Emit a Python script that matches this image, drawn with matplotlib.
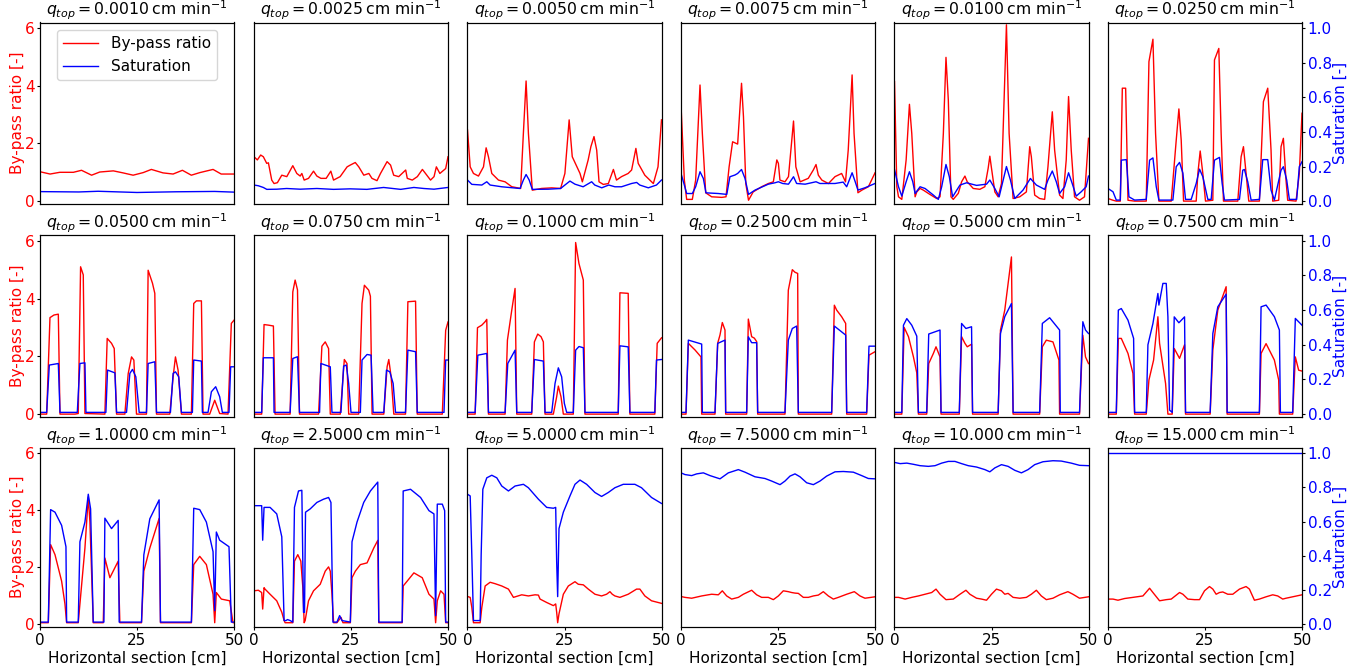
import numpy as np
import matplotlib
matplotlib.use('Agg')
import matplotlib.pyplot as plt

q_labels = ['0.0010', '0.0025', '0.0050', '0.0075', '0.0100', '0.0250',
            '0.0500', '0.0750', '0.1000', '0.2500', '0.5000', '0.7500',
            '1.0000', '2.5000', '5.0000', '7.5000', '10.000', '15.000']

# q = 0.0010
x_p1 = [0, 2.6, 5.1, 8.6, 10.7, 13.3, 15.4, 18.9, 21.4, 24.0, 26.6, 28.7, 31.7, 34.3, 36.7, 39.0, 41.2, 44.6, 46.7, 50]
bp_p1 = [1.02, 0.94, 1.0, 1.0, 1.07, 0.9, 1.01, 1.05, 0.98, 0.9, 0.99, 1.1, 0.98, 0.94, 1.07, 0.9, 0.99, 1.1, 0.94, 0.94]
xs_p1 = [0, 10, 15, 25, 35, 45, 50]
s_p1 = [0.055, 0.053, 0.057, 0.05, 0.054, 0.056, 0.052]

# q = 0.0025
x_p2 = [0, 0.86, 1.72, 2.41, 3.28, 3.71, 4.57, 5.17, 6.03, 7.16, 8.45, 10.0, 11.03, 11.9, 12.33, 12.93, 14.05, 15.34, 16.2, 17.24,
        18.6, 19.8, 20.5, 22.2, 24.0, 24.8, 26.1, 27.0, 28.3, 29.6, 30.4, 31.7, 32.6, 34.3, 35.2, 36.0, 37.3, 39.1, 39.5, 40.8,
        42.1, 43.4, 44.2, 45.5, 46.4, 47.0, 47.9, 49.4, 50]
bp_p2 = [1.54, 1.43, 1.6, 1.54, 1.31, 1.33, 0.73, 0.61, 0.64, 0.9, 0.85, 1.23, 0.96, 0.87, 0.96, 0.73, 0.79, 1.04, 0.87, 0.79,
         0.79, 1.04, 0.73, 0.85, 1.19, 1.25, 1.34, 1.19, 0.9, 0.96, 0.79, 0.71, 0.96, 1.37, 1.25, 0.9, 0.85, 1.08, 0.79, 0.73,
         0.85, 1.1, 0.96, 0.73, 0.85, 1.19, 0.96, 1.13, 1.54]
xs_p2 = [0, 1.1, 2.4, 3.3, 5.9, 8.4, 11.9, 16.2, 20.5, 24.8, 29.1, 33.4, 37.8, 41.2, 43.8, 46.4, 50]
s_p2 = [0.093, 0.089, 0.079, 0.068, 0.069, 0.073, 0.069, 0.073, 0.068, 0.071, 0.068, 0.079, 0.068, 0.079, 0.073, 0.069, 0.079]

# q = 0.0050
x_p3 = [0, 0.69, 1.54, 2.83, 4.12, 4.8, 5.4, 6.26, 7.98, 9.69, 11.4, 13.7, 14.4, 15.1, 15.7, 16.7, 19.1, 21.7, 24.0, 25.1,
        26.2, 27.0, 28.0, 29.0, 29.6, 31.1, 31.8, 32.6, 33.3, 33.9, 35.0, 36.3, 37.6, 38.4, 39.7, 41.4, 42.3, 43.4, 44.0, 45.7,
        47.9, 49.1, 50]
bp_p3 = [2.47, 1.19, 0.96, 0.87, 1.19, 1.85, 1.54, 0.96, 0.73, 0.67, 0.5, 0.44, 2.35, 4.17, 2.35, 0.38, 0.44, 0.46, 0.44, 0.96,
         2.82, 1.54, 1.25, 0.96, 0.67, 1.43, 1.89, 2.24, 1.77, 0.67, 0.58, 0.61, 1.1, 0.73, 0.85, 0.96, 1.08, 1.83, 1.31, 0.9,
         0.61, 1.19, 2.82]
xs_p3 = [0, 1.11, 3.69, 4.97, 5.83, 8.83, 13.55, 14.4, 15.1, 15.9, 16.7, 20.8, 24.0, 25.1, 26.4, 27.7, 29.8, 32.0, 32.8, 34.6,
         36.4, 38.0, 39.7, 42.3, 43.6, 44.4, 46.6, 48.7, 50]
s_p3 = [0.122, 0.097, 0.093, 0.112, 0.093, 0.083, 0.073, 0.122, 0.154, 0.122, 0.068, 0.069, 0.073, 0.093, 0.116, 0.098, 0.083,
        0.112, 0.093, 0.077, 0.093, 0.083, 0.083, 0.102, 0.108, 0.093, 0.077, 0.093, 0.122]

# q = 0.0075
x_p4 = [0, 0.86, 1.46, 2.92, 3.78, 4.9, 5.5, 6.36, 7.9, 10.5, 11.6, 12.4, 13.3, 14.6, 15.6, 16.1, 16.7, 17.4, 18.6, 20.8,
        22.5, 23.8, 24.7, 25.1, 25.5, 26.8, 27.7, 29.0, 29.6, 30.7, 32.8, 34.1, 34.8, 35.4, 36.3, 38.0, 39.7, 41.4, 42.4, 43.1,
        44.1, 44.6, 45.6, 46.6, 48.3, 50]
bp_p4 = [3.34, 0.73, 0.06, 0.06, 0.73, 4.03, 2.35, 0.29, 0.15, 0.13, 0.15, 1.19, 2.06, 1.98, 4.09, 2.93, 0.61, 0.03, 0.32, 0.5,
         0.61, 0.67, 1.43, 1.31, 0.73, 0.67, 0.85, 2.78, 1.19, 0.67, 0.79, 1.08, 1.27, 0.9, 0.73, 0.61, 0.85, 0.96, 0.67, 1.77,
         4.38, 2.35, 0.29, 0.38, 0.5, 0.98]
xs_p4 = [0, 0.86, 1.46, 2.92, 3.78, 4.9, 5.76, 6.44, 9.6, 11.8, 12.6, 13.9, 14.6, 15.6, 16.5, 17.4, 19.1, 22.5, 24.2, 25.1,
         26.2, 27.7, 29.0, 29.8, 32.0, 34.8, 35.8, 39.7, 41.8, 42.7, 44.1, 44.9, 45.6, 47.4, 50]
s_p4 = [0.16, 0.093, 0.044, 0.044, 0.083, 0.17, 0.131, 0.048, 0.044, 0.039, 0.141, 0.151, 0.16, 0.183, 0.131, 0.039, 0.064,
        0.098, 0.106, 0.112, 0.102, 0.098, 0.141, 0.102, 0.098, 0.112, 0.102, 0.102, 0.11, 0.083, 0.164, 0.112, 0.064, 0.077, 0.102]

# q = 0.0100
x_p5 = [0, 0.6, 1.03, 1.88, 3.0, 3.85, 4.45, 5.31, 5.74, 6.59, 7.45, 9.16, 10.87, 11.73, 12.59, 13.27, 13.87, 14.55, 15.15, 16.44,
        17.29, 18.15, 18.75, 20.29, 22.0, 23.29, 24.14, 24.57, 25.0, 25.86, 26.71, 27.57, 28.85, 29.54, 30.56, 32.28, 33.99, 34.85,
        35.27, 36.13, 37.41, 38.7, 39.55, 40.67, 41.27, 42.55, 43.41, 44.26, 44.86, 45.55, 46.4, 47.69, 48.97, 50]
bp_p5 = [4.15, 0.5, 0.15, 0.06, 1.43, 3.36, 2.35, 0.15, 0.32, 0.44, 0.38, 0.23, 0.09, 0.15, 2.35, 4.99, 3.51, 0.15, 0.06, 0.27,
         0.67, 0.87, 0.67, 0.44, 0.41, 0.5, 1.14, 1.56, 1.14, 0.32, 0.15, 0.61, 6.12, 2.35, 0.09, 0.15, 0.32, 1.89, 1.54, 0.21,
         0.09, 0.06, 1.19, 3.1, 1.77, 0.21, 0.09, 1.43, 3.63, 1.77, 0.15, 0.03, 0.15, 2.18]
xs_p5 = [0, 1.03, 1.88, 3.0, 3.85, 4.71, 5.31, 6.59, 7.88, 10.02, 11.3, 12.16, 13.27, 14.13, 14.98, 16.87, 18.58, 21.15, 23.72,
         24.57, 25.86, 26.97, 28.85, 29.88, 30.99, 33.13, 35.02, 36.56, 38.7, 39.55, 40.67, 41.7, 42.55, 43.84, 44.86, 45.8, 46.83,
         48.12, 49.4, 50]
s_p5 = [0.183, 0.083, 0.029, 0.112, 0.17, 0.112, 0.044, 0.083, 0.073, 0.035, 0.01, 0.083, 0.212, 0.141, 0.025, 0.093, 0.106,
        0.091, 0.098, 0.122, 0.073, 0.025, 0.2, 0.122, 0.015, 0.064, 0.131, 0.093, 0.068, 0.122, 0.174, 0.112, 0.044, 0.083, 0.164,
        0.102, 0.029, 0.054, 0.083, 0.145]

# q = 0.0250
x_p6 = [0, 1.29, 2.14, 3.17, 3.69, 4.55, 5.15, 6.86, 9.86, 10.55, 11.58, 12.26, 13.12, 16.3, 17.58, 18.27, 18.87, 19.47, 22.73,
        23.16, 23.76, 24.44, 25.13, 27.02, 27.44, 28.56, 29.16, 29.76, 33.45, 34.31, 34.91, 35.59, 36.28, 39.02, 40.05, 41.17,
        42.02, 42.45, 44.0, 44.6, 45.2, 45.88, 46.31, 48.46, 49.31, 50]
bp_p6 = [0.09, 0.03, 0, 0, 3.92, 3.92, 0.03, 0, 0, 4.84, 5.62, 2.35, 0, 0, 2.11, 3.2, 2.11, 0, 0, 0.96, 1.74, 0.96, 0, 0.03,
         4.9, 5.3, 2.35, 0, 0, 1.54, 1.89, 0.96, 0, 0, 3.45, 3.92, 1.77, 0, 0.03, 1.89, 2.18, 0.73, 0.03, 0, 0.96, 3.05]
xs_p6 = [0, 1.29, 2.14, 3.17, 3.43, 4.72, 5.4, 6.86, 9.86, 10.72, 11.58, 12.44, 13.12, 16.72, 17.58, 18.44, 19.3, 19.98, 21.44,
         22.73, 23.59, 24.44, 25.73, 26.59, 27.44, 28.73, 29.42, 30.02, 33.88, 34.73, 35.16, 36.02, 36.88, 39.02, 39.88, 41.17,
         42.02, 42.88, 44.6, 45.2, 46.06, 46.74, 48.63, 49.31, 50]
s_p6 = [0.073, 0.054, 0.006, 0.006, 0.237, 0.24, 0.025, 0.006, 0.01, 0.237, 0.25, 0.083, 0.006, 0.006, 0.199, 0.224, 0.162,
        0.01, 0.01, 0.102, 0.185, 0.141, 0.01, 0.01, 0.237, 0.253, 0.102, 0.006, 0.01, 0.179, 0.183, 0.112, 0.006, 0.01, 0.24,
        0.24, 0.064, 0.006, 0.179, 0.199, 0.122, 0.01, 0.01, 0.199, 0.228]

# q = 0.0500
x_p7 = [0, 1.72, 2.57, 3.6, 4.72, 5.15, 9.0, 9.86, 10.46, 11.15, 11.58, 16.72, 17.32, 18.44, 19.13, 19.73, 21.87, 22.73, 23.59,
        24.19, 24.87, 27.44, 27.87, 28.99, 29.59, 30.02, 33.45, 34.31, 34.91, 35.59, 36.45, 39.02, 39.62, 40.31, 41.6, 42.02,
        43.74, 45.03, 46.31, 48.46, 49.31, 50]
bp_p7 = [0, 0, 3.34, 3.43, 3.46, 0, 0, 0.02, 5.1, 4.82, 0.02, 0, 2.62, 2.45, 2.27, 0, 0, 1.4, 1.98, 1.87, 0, 0, 4.98, 4.53,
         4.18, 0, 0, 1.29, 1.98, 1.52, 0, 0, 3.83, 3.92, 3.92, 0, 0, 0.48, 0.02, 0, 3.14, 3.25]
xs_p7 = [0, 1.72, 2.4, 4.72, 5.15, 9.61, 10.29, 11.58, 11.84, 16.98, 17.41, 19.3, 19.73, 22.3, 23.16, 23.84, 24.7, 25.56, 27.44,
         27.87, 29.59, 30.02, 33.62, 34.31, 34.91, 35.76, 36.45, 39.28, 39.62, 41.6, 41.85, 43.31, 44.17, 45.28, 46.31, 47.0,
         48.71, 49.14, 50]
s_p7 = [0.01, 0.01, 0.283, 0.292, 0.01, 0.01, 0.292, 0.296, 0.01, 0.01, 0.254, 0.238, 0.01, 0.01, 0.235, 0.258, 0.215, 0.01,
        0.01, 0.292, 0.302, 0.01, 0.01, 0.235, 0.244, 0.215, 0.01, 0.01, 0.312, 0.306, 0.01, 0.01, 0.129, 0.158, 0.1, 0.01, 0.01,
        0.273, 0.273]

# q = 0.0750
x_p8 = [0, 1.98, 2.59, 3.71, 5.0, 5.43, 9.31, 10.0, 10.6, 11.21, 11.72, 16.64, 17.5, 18.36, 19.22, 19.66, 22.24, 23.28, 23.97,
        24.4, 26.98, 27.84, 28.45, 29.57, 30.0, 30.43, 33.45, 34.31, 34.74, 35.34, 36.03, 39.05, 39.66, 41.64, 42.07, 48.53, 49.4, 50]
bp_p8 = [0, 0, 3.1, 3.08, 3.05, 0, 0, 4.23, 4.64, 4.3, 0, 0, 2.35, 2.5, 2.27, 0, 0, 1.89, 1.75, 0, 0, 3.83, 4.46, 4.29, 4.08,
         0, 0, 1.64, 1.89, 1.29, 0, 0, 3.89, 3.91, 0, 0, 2.9, 3.19]
xs_p8 = [0, 1.98, 2.41, 5.0, 5.17, 9.31, 10.0, 11.21, 11.72, 16.9, 17.24, 19.66, 20.09, 22.41, 23.1, 23.79, 24.4, 25.0, 27.41,
         27.84, 29.14, 30.17, 30.69, 33.45, 34.14, 35.0, 35.86, 36.47, 39.05, 39.66, 41.64, 42.07, 48.97, 49.4, 50]
s_p8 = [0.01, 0.01, 0.325, 0.325, 0.01, 0.01, 0.321, 0.331, 0.01, 0.01, 0.292, 0.273, 0.01, 0.01, 0.277, 0.283, 0.177, 0.01,
        0.01, 0.312, 0.344, 0.34, 0.01, 0.01, 0.254, 0.244, 0.177, 0.01, 0.01, 0.369, 0.36, 0.01, 0.01, 0.312, 0.312]

# q = 0.1000
x_p9 = [0, 1.97, 2.57, 3.69, 4.55, 4.97, 5.4, 9.69, 10.29, 11.41, 12.26, 12.69, 16.55, 17.24, 18.1, 18.95, 19.55, 19.98, 22.13,
        22.98, 23.41, 24.1, 24.7, 27.27, 27.87, 28.73, 29.85, 30.27, 38.85, 39.28, 41.42, 41.85, 48.28, 48.89, 50]
bp_p9 = [0, 0, 2.99, 3.08, 3.2, 3.28, 0, 0, 2.56, 3.6, 4.35, 0, 0, 2.5, 2.77, 2.68, 2.5, 0, 0, 0.6, 0.97, 0.6, 0, 0, 5.94,
         5.21, 4.64, 0, 0, 4.2, 4.18, 0, 0, 2.45, 2.64]
xs_p9 = [0, 1.97, 2.66, 4.97, 5.4, 9.69, 10.38, 12.26, 12.69, 16.55, 17.24, 19.55, 19.98, 21.7, 22.56, 23.41, 24.27, 24.96,
         25.56, 27.27, 27.87, 28.73, 29.85, 30.27, 38.85, 39.28, 41.42, 41.85, 48.28, 48.71, 50]
s_p9 = [0.01, 0.01, 0.34, 0.35, 0.01, 0.01, 0.292, 0.369, 0.01, 0.01, 0.315, 0.306, 0.01, 0.01, 0.177, 0.267, 0.215, 0.062,
        0.01, 0.01, 0.369, 0.39, 0.383, 0.01, 0.01, 0.394, 0.388, 0.01, 0.01, 0.312, 0.315]

# q = 0.2500
x_p10 = [0, 1.29, 1.89, 3.61, 5.15, 5.33, 8.76, 9.45, 10.05, 10.65, 11.34, 11.51, 16.92, 17.35, 18.21, 18.9, 19.5, 19.76,
         26.8, 27.66, 28.69, 29.38, 30.07, 30.24, 38.83, 39.52, 40.12, 41.41, 42.44, 42.7, 47.85, 48.45, 50]
bp_p10 = [0, 0, 2.45, 2.22, 1.98, 0, 0, 2.45, 2.74, 3.17, 2.91, 0, 0, 3.29, 2.68, 2.63, 2.51, 0, 0, 4.29, 5.0, 4.91, 4.87,
          0, 0, 3.77, 3.6, 3.37, 3.14, 0, 0, 2.04, 2.16]
xs_p10 = [0, 1.29, 1.89, 5.33, 5.5, 8.76, 9.45, 11.34, 11.51, 16.92, 17.35, 18.21, 19.5, 19.76, 26.8, 27.66, 28.69, 29.81,
          30.24, 38.83, 39.52, 42.44, 42.7, 47.85, 48.45, 50]
s_p10 = [0.01, 0.01, 0.427, 0.404, 0.01, 0.01, 0.408, 0.427, 0.01, 0.01, 0.446, 0.412, 0.412, 0.01, 0.01, 0.427, 0.494,
         0.508, 0.01, 0.01, 0.508, 0.456, 0.01, 0.01, 0.392, 0.392]

# q = 0.5000
x_p11 = [0, 1.88, 2.48, 3.6, 4.88, 5.74, 6.16, 8.3, 8.82, 10.02, 10.7, 11.73, 11.99, 16.7, 17.29, 18.15, 18.75, 19.86, 20.12,
         26.71, 27.31, 28.42, 30.14, 30.57, 37.41, 38.1, 39.13, 40.84, 42.38, 42.55, 47.69, 48.54, 49.23, 50]
bp_p11 = [0, 0, 3.0, 2.68, 1.98, 1.43, 0, 0, 1.75, 2.1, 2.33, 1.98, 0, 0, 2.68, 2.45, 2.33, 2.42, 0, 0, 2.91, 3.6, 5.44, 0,
          0, 2.33, 2.56, 2.5, 1.87, 0, 0, 2.73, 1.98, 1.75]
xs_p11 = [0, 1.88, 2.31, 3.17, 4.45, 5.74, 6.16, 8.3, 8.82, 11.73, 11.99, 16.7, 17.29, 18.41, 19.86, 20.12, 26.71, 27.31,
          28.42, 30.14, 30.57, 37.41, 38.1, 39.98, 42.55, 42.72, 47.69, 48.54, 49.23, 50]
s_p11 = [0.01, 0.01, 0.513, 0.551, 0.513, 0.45, 0.01, 0.01, 0.462, 0.485, 0.01, 0.01, 0.523, 0.494, 0.504, 0.01, 0.01,
         0.465, 0.562, 0.638, 0.01, 0.01, 0.523, 0.556, 0.485, 0.01, 0.01, 0.533, 0.485, 0.465]

# q = 0.7500
x_p12 = [0, 2.14, 2.66, 3.43, 5.15, 6.43, 6.86, 9.86, 10.55, 11.75, 12.86, 13.29, 14.84, 15.44, 16.55, 17.07, 18.44, 19.73,
         19.98, 26.33, 27.02, 28.3, 30.45, 30.7, 39.02, 39.45, 40.74, 42.88, 43.99, 44.17, 47.6, 48.28, 49.14, 50]
bp_p12 = [0, 0, 2.62, 2.62, 2.1, 1.41, 0, 0, 1.18, 1.87, 3.37, 2.45, 1.06, 0, 0, 2.27, 1.93, 2.4, 0, 0, 2.22, 3.6, 4.41, 0,
          0, 2.1, 2.44, 1.87, 1.18, 0, 0, 1.98, 1.52, 1.49]
xs_p12 = [0, 2.14, 2.66, 3.43, 5.15, 6.6, 6.86, 9.86, 10.29, 11.58, 12.86, 13.12, 14.15, 15.01, 15.44, 15.87, 16.55, 17.07,
          18.27, 19.73, 19.98, 26.33, 27.02, 28.3, 30.45, 30.7, 39.02, 39.45, 40.74, 42.88, 44.17, 44.43, 47.6, 48.28, 50]
s_p12 = [0.01, 0.01, 0.6, 0.609, 0.542, 0.437, 0.01, 0.01, 0.4, 0.523, 0.696, 0.629, 0.754, 0.754, 0.562, 0.023, 0.01,
         0.561, 0.527, 0.561, 0.01, 0.01, 0.465, 0.619, 0.692, 0.01, 0.01, 0.619, 0.629, 0.562, 0.485, 0.01, 0.01, 0.552, 0.513]

# q = 1.0000
x_p13 = [0, 2.14, 2.74, 3.86, 5.57, 6.43, 6.86, 9.86, 10.29, 11.58, 12.44, 12.86, 13.72, 16.3, 16.72, 18.01, 19.3, 20.15,
         20.58, 26.16, 26.76, 28.3, 30.7, 31.05, 39.02, 39.62, 41.17, 42.88, 44.6, 45.03, 45.45, 46.74, 48.89, 49.74, 50]
bp_p13 = [0.05, 0.05, 2.79, 2.44, 1.51, 0.71, 0.05, 0.05, 0.71, 2.67, 4.46, 3.6, 0.05, 0.05, 2.32, 1.63, 1.98, 2.21, 0.05,
          0.05, 1.86, 2.67, 3.71, 0.05, 0.05, 2.09, 2.38, 2.09, 1.05, 0.05, 1.11, 0.88, 0.82, 0.05, 0.05]
xs_p13 = [0, 2.14, 2.74, 3.86, 5.57, 6.69, 6.86, 9.86, 10.29, 11.58, 12.44, 13.04, 13.72, 16.47, 16.72, 18.44, 20.15, 20.41,
          26.16, 26.76, 28.3, 30.7, 31.05, 39.02, 39.62, 41.17, 42.88, 44.6, 45.03, 45.45, 46.31, 48.71, 49.31, 50]
s_p13 = [0.012, 0.012, 0.67, 0.655, 0.578, 0.453, 0.012, 0.012, 0.482, 0.597, 0.76, 0.674, 0.012, 0.012, 0.62, 0.559, 0.607,
         0.012, 0.012, 0.405, 0.616, 0.727, 0.012, 0.012, 0.678, 0.67, 0.597, 0.424, 0.079, 0.539, 0.491, 0.453, 0.012, 0.012]

# q = 2.5000
x_p14 = [0, 1.12, 1.98, 2.24, 2.59, 2.84, 4.14, 5.86, 7.16, 7.76, 8.02, 9.31, 10.0, 10.43, 11.29, 12.07, 12.59, 12.93, 13.19,
         14.05, 15.34, 17.07, 18.36, 19.22, 19.66, 20.09, 20.52, 21.38, 21.81, 22.41, 22.93, 24.83, 25.26, 26.12, 27.41, 29.14,
         30.86, 31.9, 32.16, 38.19, 38.45, 39.48, 41.21, 43.36, 45.09, 46.38, 46.81, 47.24, 48.1, 48.97, 49.4, 50]
bp_p14 = [1.17, 1.19, 1.11, 0.53, 1.28, 1.23, 1.05, 0.82, 0.42, 0.13, 0.05, 0.05, 0.05, 2.21, 2.44, 2.21, 1.28, 0.05, 0.13,
          0.82, 1.17, 1.4, 1.86, 2.01, 1.86, 1.05, 0.05, 0.05, 0.13, 0.24, 0.05, 0.05, 1.63, 1.86, 2.09, 2.15, 2.67, 2.94, 0.05,
          0.05, 1.34, 1.51, 1.8, 1.63, 1.05, 0.88, 0.05, 0.82, 1.17, 1.05, 0.05, 0.05]
xs_p14 = [0, 1.98, 2.24, 2.59, 4.14, 5.86, 7.16, 7.76, 8.28, 8.62, 9.31, 10.0, 10.43, 11.47, 12.33, 12.76, 13.02, 13.28,
          14.48, 16.21, 17.93, 19.22, 19.83, 20.34, 21.38, 22.07, 22.67, 24.83, 25.26, 26.55, 28.28, 30.0, 31.9, 32.16, 38.19,
          38.45, 40.34, 42.93, 45.09, 46.38, 46.81, 47.24, 48.53, 49.14, 49.4, 50]
s_p14 = [0.693, 0.693, 0.491, 0.683, 0.683, 0.645, 0.511, 0.021, 0.021, 0.027, 0.021, 0.012, 0.683, 0.779, 0.783, 0.069,
         0.069, 0.655, 0.674, 0.712, 0.731, 0.741, 0.712, 0.012, 0.012, 0.05, 0.021, 0.012, 0.482, 0.597, 0.712, 0.779, 0.831,
         0.012, 0.012, 0.779, 0.789, 0.741, 0.664, 0.645, 0.05, 0.702, 0.702, 0.664, 0.012, 0.012]

# q = 5.0000
x_p15 = [0, 0.69, 1.11, 1.54, 3.26, 3.69, 4.55, 5.83, 7.12, 8.83, 10.55, 11.84, 13.98, 15.69, 17.41, 18.27, 18.7, 20.41,
         22.13, 22.73, 22.98, 23.24, 23.58, 24.7, 25.99, 27.7, 28.56, 29.85, 31.13, 32.85, 34.56, 35.85, 36.71, 37.31, 37.99,
         39.28, 41.42, 43.57, 44.43, 45.71, 47.43, 50]
bp_p15 = [0.97, 0.94, 0.59, 0.05, 0.05, 0.59, 1.34, 1.47, 1.42, 1.34, 1.23, 0.94, 1.03, 0.99, 1.03, 1.02, 0.88, 0.76, 0.65,
          0.71, 0.42, 0.05, 0.36, 1.05, 1.34, 1.49, 1.4, 1.38, 1.23, 1.05, 0.99, 1.05, 1.14, 1.05, 0.99, 0.94, 1.05, 1.23, 1.23,
          0.99, 0.82, 0.73]
xs_p15 = [0, 0.69, 1.11, 1.54, 3.26, 3.52, 3.95, 4.97, 6.26, 7.55, 8.83, 10.55, 12.26, 14.41, 15.69, 18.27, 20.41, 22.13,
          22.73, 22.98, 23.24, 23.58, 24.7, 26.41, 27.7, 28.99, 30.7, 32.85, 34.56, 36.28, 37.99, 40.14, 43.14, 44.85, 47.43, 50]
s_p15 = [0.76, 0.75, 0.405, 0.021, 0.021, 0.405, 0.789, 0.856, 0.871, 0.856, 0.808, 0.779, 0.808, 0.818, 0.798, 0.731, 0.683,
         0.678, 0.683, 0.367, 0.161, 0.559, 0.655, 0.75, 0.818, 0.843, 0.818, 0.77, 0.747, 0.77, 0.798, 0.818, 0.818, 0.798,
         0.741, 0.706]

# q = 7.5000
x_p16 = [0, 1.03, 2.75, 5.33, 7.9, 9.62, 10.65, 11.77, 13.06, 14.78, 16.07, 18.21, 19.5, 20.79, 22.51, 23.8, 25.09, 26.37,
         27.66, 28.52, 29.38, 30.24, 31.53, 32.82, 34.11, 35.4, 36.68, 37.97, 39.26, 40.55, 42.7, 44.67, 46.13, 47.42, 50]
bp_p16 = [0.97, 0.94, 0.91, 0.99, 1.05, 1.03, 1.17, 0.99, 0.88, 0.94, 1.05, 1.19, 1.03, 0.94, 0.94, 0.86, 0.99, 1.17, 1.14,
          1.11, 1.09, 1.08, 0.94, 0.94, 0.99, 1.02, 1.14, 0.99, 0.88, 0.94, 1.05, 1.14, 0.99, 0.91, 0.96]
xs_p16 = [0, 1.03, 2.75, 4.04, 5.76, 7.47, 10.05, 12.2, 14.78, 16.49, 19.07, 21.65, 23.37, 25.52, 26.8, 28.09, 29.38, 30.67,
          32.39, 34.11, 35.82, 37.54, 39.69, 41.84, 44.42, 46.56, 48.28, 50]
s_p16 = [0.885, 0.875, 0.869, 0.879, 0.885, 0.869, 0.85, 0.885, 0.904, 0.889, 0.862, 0.852, 0.837, 0.816, 0.837, 0.866, 0.879,
         0.862, 0.827, 0.816, 0.837, 0.866, 0.891, 0.893, 0.889, 0.869, 0.852, 0.85]

# q = 10.000
x_p17 = [0, 1.03, 2.74, 4.45, 6.16, 7.88, 9.59, 10.7, 11.73, 13.27, 15.15, 16.87, 18.41, 19.43, 21.15, 22.43, 23.72, 25.0,
         26.28, 27.57, 28.42, 29.28, 30.57, 32.28, 33.99, 35.27, 36.56, 37.84, 39.13, 40.84, 42.55, 44.69, 45.98, 47.69, 50]
bp_p17 = [0.94, 0.94, 0.88, 0.94, 0.99, 1.05, 1.11, 1.23, 1.05, 0.86, 0.88, 1.05, 1.19, 1.05, 0.91, 0.88, 0.84, 1.05, 1.23,
          1.17, 1.05, 1.08, 0.94, 0.91, 0.94, 1.05, 1.19, 0.99, 0.86, 0.91, 1.03, 1.14, 1.05, 0.91, 0.96]
xs_p17 = [0, 1.46, 3.17, 4.88, 6.59, 8.73, 10.45, 12.16, 13.87, 15.58, 17.29, 19.01, 21.15, 23.29, 24.57, 25.86, 27.57, 29.28,
          30.99, 32.71, 34.42, 36.13, 38.27, 40.84, 42.98, 45.55, 47.69, 50]
s_p17 = [0.946, 0.939, 0.942, 0.935, 0.927, 0.923, 0.927, 0.942, 0.952, 0.952, 0.939, 0.927, 0.919, 0.904, 0.891, 0.914,
         0.933, 0.923, 0.9, 0.885, 0.904, 0.933, 0.95, 0.956, 0.954, 0.942, 0.929, 0.927]

# q = 15.000
x_p18 = [0, 1.29, 2.57, 4.29, 6.43, 9.0, 10.72, 11.58, 13.29, 15.01, 16.3, 18.44, 19.3, 20.58, 22.3, 23.59, 24.87, 26.16,
         27.02, 27.87, 28.73, 29.59, 30.87, 32.16, 33.88, 35.59, 36.45, 37.74, 39.02, 40.74, 42.45, 43.74, 45.03, 45.88, 47.6, 50]
bp_p18 = [0.88, 0.88, 0.84, 0.9, 0.94, 0.99, 1.26, 1.11, 0.82, 0.86, 0.88, 1.11, 1.05, 0.88, 0.86, 0.86, 1.17, 1.32, 1.23,
          1.05, 1.11, 1.13, 1.05, 1.05, 1.23, 1.32, 1.23, 0.84, 0.88, 0.96, 1.03, 0.99, 0.88, 0.91, 0.96, 1.03]
xs_p18 = [0, 50]
s_p18 = [1.0, 1.0]

bypass_x = [x_p1, x_p2, x_p3, x_p4, x_p5, x_p6, x_p7, x_p8, x_p9, x_p10, x_p11, x_p12,
            x_p13, x_p14, x_p15, x_p16, x_p17, x_p18]
bypass_y = [bp_p1, bp_p2, bp_p3, bp_p4, bp_p5, bp_p6, bp_p7, bp_p8, bp_p9, bp_p10, bp_p11, bp_p12,
            bp_p13, bp_p14, bp_p15, bp_p16, bp_p17, bp_p18]
sat_x = [xs_p1, xs_p2, xs_p3, xs_p4, xs_p5, xs_p6, xs_p7, xs_p8, xs_p9, xs_p10, xs_p11, xs_p12,
         xs_p13, xs_p14, xs_p15, xs_p16, xs_p17, xs_p18]
sat_y = [s_p1, s_p2, s_p3, s_p4, s_p5, s_p6, s_p7, s_p8, s_p9, s_p10, s_p11, s_p12,
         s_p13, s_p14, s_p15, s_p16, s_p17, s_p18]

W, H = 1371.0, 671.0
fig = plt.figure(figsize=(W / 100, H / 100), dpi=100)
lefts = [40, 254, 467.5, 681, 894.5, 1108]
tops = [22.5, 235, 447.5]
heights = [181.5, 182, 179.5]
pw = 194
fs = 11

for k in range(18):
    r, c = divmod(k, 6)
    ph = heights[r]
    ax = fig.add_axes([lefts[c] / W, 1 - (tops[r] + ph) / H, pw / W, ph / H])
    ax2 = ax.twinx()
    l1, = ax.plot(bypass_x[k], bypass_y[k], color='red', lw=1, label='By-pass ratio')
    l2, = ax2.plot(sat_x[k], sat_y[k], color='blue', lw=1, label='Saturation')
    ax.set_xlim(0, 50)
    ax.set_ylim(-0.1, 6.2)
    ax2.set_ylim(-0.1 / 6, 6.2 / 6)
    ax.set_title(r'$q_{top} = ' + q_labels[k] + r'\,\mathrm{cm\ min^{-1}}$', fontsize=11.3, pad=4)
    if c == 0:
        ax.set_yticks([0, 2, 4, 6])
        ax.tick_params(axis='y', labelcolor='red', labelsize=fs, length=2.5, pad=1.5)
        ax.set_ylabel('By-pass ratio [-]', color='red', fontsize=fs, labelpad=0)
    else:
        ax.set_yticks([])
    if c == 5:
        ax2.set_yticks([0, 0.2, 0.4, 0.6, 0.8, 1.0])
        ax2.tick_params(axis='y', labelcolor='blue', labelsize=fs, length=2.5, pad=1.5)
        ax2.set_ylabel('Saturation [-]', color='blue', fontsize=fs, labelpad=0.5)
    else:
        ax2.set_yticks([])
    if r == 2:
        ax.set_xticks([0, 25, 50])
        ax.tick_params(axis='x', labelsize=fs, length=2.5, pad=1.5)
        ax.set_xlabel('Horizontal section [cm]', fontsize=fs, labelpad=2)
    else:
        ax.set_xticks([])
    if k == 0:
        ax.legend([l1, l2], ['By-pass ratio', 'Saturation'], loc='upper center',
                  fontsize=fs, handlelength=2.3)

fig.savefig('out.png', dpi=100)
